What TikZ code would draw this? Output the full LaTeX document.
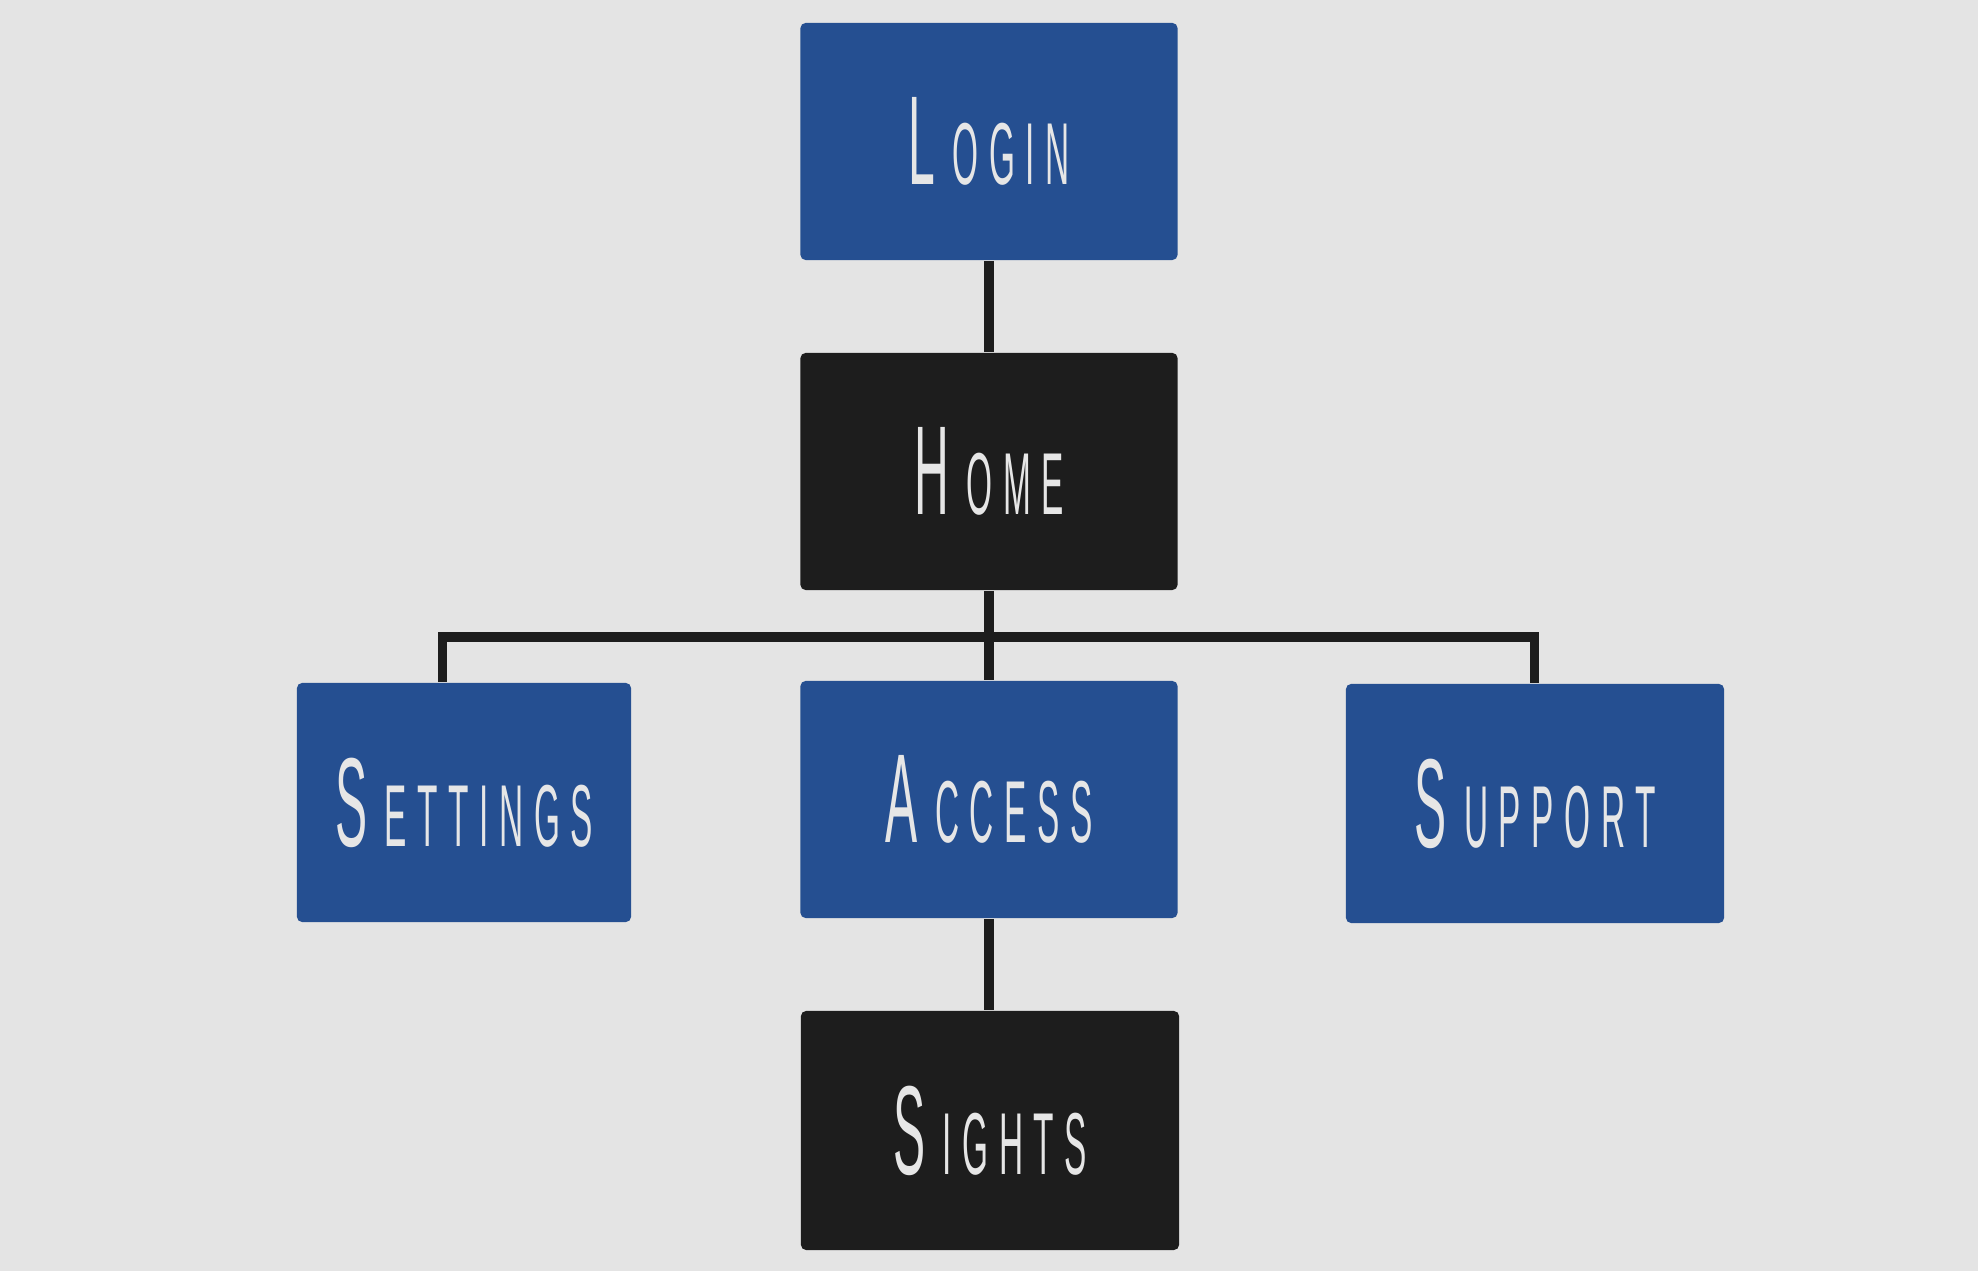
\documentclass[tikz,border=0pt]{standalone}
\usepackage{fontspec}
\newfontfamily\boxfont[FakeStretch=0.38,LetterSpace=12]{Liberation Sans}
\definecolor{bgc}{HTML}{E4E4E4}
\definecolor{bluec}{HTML}{254F91}
\definecolor{darkc}{HTML}{1D1D1D}
\definecolor{txtc}{HTML}{E6E6E6}
\newcommand{\capword}[2]{{\boxfont\fontsize{36}{36}\selectfont #1}\kern5pt{\boxfont\fontsize{25}{25}\selectfont #2}}
\tikzset{
  bluebox/.style={fill=bluec, rounded corners=1.5pt, inner sep=0pt, text=txtc, minimum width=3.77cm, minimum height=2.37cm},
  darkbox/.style={fill=darkc, rounded corners=1.5pt, inner sep=0pt, text=txtc, minimum width=3.77cm, minimum height=2.37cm},
  conn/.style={draw=darkc, line width=2.6pt, line join=miter, line cap=butt}
}
\begin{document}
\begin{tikzpicture}[x=0.01cm,y=-0.01cm]
\fill[bgc] (0,0) rectangle (1978,1271);
\useasboundingbox (0,0) rectangle (1978,1271);
\coordinate (busL) at (442.5,637);
\coordinate (busR) at (1534.5,637);
\node[bluebox] (login) at (989,141.5) {\capword{L}{OGIN}};
\node[darkbox] (home) at (989,471.5) {\capword{H}{OME}};
\node[bluebox] (access) at (989,799.5) {\capword{A}{CCESS}};
\node[bluebox, minimum width=3.34cm, minimum height=2.39cm] (settings) at (464,802.5) {\capword{S}{ETTINGS}};
\node[bluebox, minimum width=3.78cm, minimum height=2.39cm] (support) at (1535,803.5) {\capword{S}{UPPORT}};
\node[darkbox, minimum width=3.78cm, minimum height=2.39cm] (sights) at (990,1130.5) {\capword{S}{IGHTS}};
\draw[conn] (login.south) -- (home.north);
\draw[conn] (home.south) -- (access.north);
\draw[conn] (settings.north -| busL) -- (busL) -- (busR) -- (support.north -| busR);
\draw[conn] (access.south) -- (access.south |- sights.north);
\end{tikzpicture}
\end{document}
